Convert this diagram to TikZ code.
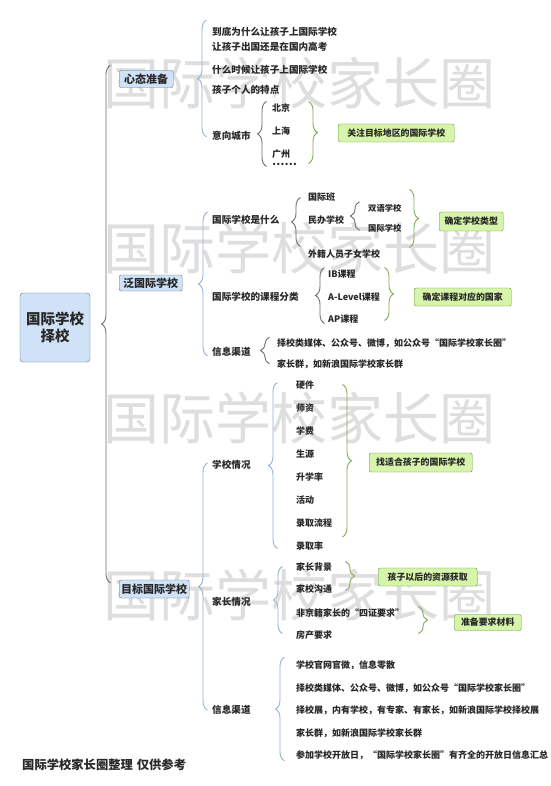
\documentclass[tikz,border=0pt]{standalone}
\usepackage{fontspec}
\setmainfont{Noto Sans CJK SC}
\usepackage{xcolor}
\usepackage{tikz}
\usetikzlibrary{calc, decorations.pathreplacing}
\definecolor{topic}{RGB}{207,226,248}
\definecolor{topicline}{RGB}{100,112,130}
\definecolor{goal}{RGB}{214,244,170}
\definecolor{goalline}{RGB}{100,150,60}
\definecolor{bblue}{RGB}{150,175,210}
\definecolor{bgray}{RGB}{110,110,110}
\definecolor{bgreen}{RGB}{130,168,90}
\definecolor{ink}{RGB}{40,40,40}
\definecolor{mark}{RGB}{222,222,222}

\begin{document}
\begin{tikzpicture}[x=1pt, y=-1pt,
  topic/.style={rectangle, draw=topicline, fill=topic, rounded corners=2pt, inner sep=0pt,
                font=\bfseries\fontsize{11}{13}\selectfont, text=ink},
  goal/.style={rectangle, draw=goalline, fill=goal, rounded corners=2pt, inner sep=0pt,
               minimum height=18pt, font=\bfseries\fontsize{8.9}{10}\selectfont, text=ink},
  mid/.style={anchor=west, inner sep=0pt, font=\bfseries\fontsize{9.6}{11}\selectfont, text=ink},
  leaf/.style={anchor=west, inner sep=0pt, font=\bfseries\fontsize{9}{11}\selectfont, text=ink},
  lbr/.style={draw=#1, line width=0.9pt, decorate, decoration={brace, mirror, amplitude=9pt}},
  rbr/.style={draw=bgreen, line width=0.9pt, decorate, decoration={brace, amplitude=9pt}}
]
\fill[white] (0,0) rectangle (550,786);
\useasboundingbox (0,0) rectangle (550,786);

% watermark
\foreach \wy [count=\i] in {83,248,418,595}
  \node[anchor=west, inner sep=0pt, font=\fontsize{56}{56}\selectfont, text=mark] (wm\i) at (103,\wy) {国际学校家长圈};

% root and main topics
\node[topic, minimum width=70pt, minimum height=69pt, rounded corners=3pt, align=center,
      font=\bfseries\fontsize{14.5}{17}\selectfont] (root) at (55,327.5) {国际学校\\择校};
\node[topic, minimum width=54pt, minimum height=17pt, anchor=west] (mind) at (119,79) {心态准备};
\node[topic, minimum width=63pt, minimum height=16pt, anchor=west] (pan) at (119,283) {泛国际学校};
\node[topic, minimum width=70pt, minimum height=18pt, anchor=west] (target) at (119,589) {目标国际学校};
\draw[lbr=bgray] ($(mind.north west)+(-8.5,-5)$) -- ($(target.north west)+(-8.5,3)$);

% 心态准备
\node[mid] (why) at (212,32) {到底为什么让孩子上国际学校};
\node[mid] (abroad) at (212,47) {让孩子出国还是在国内高考};
\node[mid] (when) at (212,70) {什么时候让孩子上国际学校};
\node[mid] (trait) at (212,90) {孩子个人的特点};
\node[mid] (city) at (212,136) {意向城市};
\draw[lbr=bblue] ($(why.north west)+(-5.5,-7)$) -- ($(city.south west)+(-5.5,-4)$);

\node[leaf] (bj) at (272,108) {北京};
\node[leaf] (sh) at (272,131) {上海};
\node[leaf] (gz) at (272,154) {广州};
\node[leaf, font=\bfseries\fontsize{11}{11}\selectfont] (more) at (272,164) {……};
\draw[lbr=bgray] ($(bj.north west)+(-5.5,-2)$) -- ($(more.south west)+(-5.5,1)$);

\node[goal, minimum width=116pt, anchor=west] (focus) at (338,133) {关注目标地区的国际学校};
\draw[rbr] ($(focus.west |- bj.north)+(-29.5,-2)$) -- ($(focus.west |- gz.south)+(-29.5,5)$);

% 泛国际学校
\node[mid] (what) at (212,220) {国际学校是什么};
\node[mid] (course) at (212,297) {国际学校的课程分类};
\node[mid] (chan) at (212,352) {信息渠道};
\draw[lbr=bblue] ($(what.north west)+(-4.5,-3)$) -- ($(chan.south west)+(-4.5,-1)$);

\node[leaf] (intl) at (308,197) {国际班};
\node[leaf] (priv) at (308,220) {民办学校};
\node[leaf] (expat) at (308,254) {外籍人员子女学校};
\draw[lbr=bgray] ($(intl.north west)+(-7.5,5)$) -- ($(expat.north west)+(-7.5,-3)$);

\node[leaf, font=\bfseries\fontsize{8.3}{10}\selectfont] (bil) at (368,208) {双语学校};
\node[leaf, font=\bfseries\fontsize{8.3}{10}\selectfont] (ints) at (368,228) {国际学校};
\draw[lbr=bgray] ($(bil.north west)+(-8.5,-2)$) -- ($(ints.south west)+(-8.5,-2)$);

\node[goal, minimum width=64pt, minimum height=19pt, anchor=west] (kind) at (439,221.5) {确定学校类型};
\draw[rbr] ($(kind.west |- intl.north)+(-29.5,-3)$) -- ($(kind.west |- expat.north)+(-29.5,-2)$);

\node[leaf] (ib) at (328,274) {IB课程};
\node[leaf] (alevel) at (328,297) {A-Level课程};
\node[leaf] (ap) at (328,319) {AP课程};
\draw[lbr=bgray] ($(ib.north west)+(-3.5,-2)$) -- ($(ap.south west)+(-3.5,0)$);

\node[goal, minimum width=97pt, anchor=west] (nation) at (414,297) {确定课程对应的国家};
\draw[rbr] ($(nation.west |- ib.north)+(-29.5,-2)$) -- ($(nation.west |- ap.south)+(-29.5,-3)$);

\node[leaf] (media) at (277,343) {择校类媒体、公众号、微博，如公众号“国际学校家长圈”};
\node[leaf] (group) at (277,364) {家长群，如新浪国际学校家长群};
\draw[lbr=bgray] ($(media.north west)+(-7.5,-1)$) -- ($(group.south west)+(-7.5,-5)$);

% 目标国际学校
\node[mid] (sch) at (212,465) {学校情况};
\node[mid] (par) at (212,602) {家长情况};
\node[mid] (chan2) at (212,710) {信息渠道};
\draw[lbr=bblue] ($(sch.west)+(-4.5,-2)$) -- ($(chan2.west)+(-4.5,0)$);

\foreach \t [count=\i] in {硬件,师资,学费,生源,升学率,活动,录取流程,录取率}
  \node[leaf] (s\i) at (296,{362+23*\i}) {\t};
\draw[lbr=bblue] ($(s1.north west)+(-18.5,2)$) -- ($(s8.south west)+(-18.5,-2)$);

\node[goal, minimum width=103pt, minimum height=19pt, anchor=west] (fit) at (369,462.5) {找适合孩子的国际学校};
\draw[rbr] ($(fit.west |- s1.north)+(-26.5,4)$) -- ($(fit.west |- s8.north)+(-26.5,-4.5)$);

\node[leaf] (p1) at (296,567) {家长背景};
\node[leaf] (p2) at (296,589) {家校沟通};
\node[leaf] (p3) at (296,613) {非京籍家长的“四证要求”};
\node[leaf] (p4) at (296,635) {房产要求};
\draw[lbr=bblue] ($(p1.north west)+(-13.5,4)$) -- ($(p4.south west)+(-13.5,-6)$);

\node[goal, minimum width=99pt, anchor=west] (res) at (378,577) {孩子以后的资源获取};
\draw[rbr] ($(res.west |- p1.north)+(-32.5,-1)$) -- ($(res.west |- p2.south)+(-32.5,-3)$);

\node[goal, minimum width=67pt, minimum height=16pt, anchor=west] (prep) at (454,622.5) {准备要求材料};
\draw[rbr] ($(prep.west |- p3.north)+(-35.5,-2)$) -- ($(prep.west |- p4.south)+(-35.5,-6)$);

\node[leaf] (i1) at (296,665) {学校官网官微，信息零散};
\node[leaf] (i2) at (296,688) {择校类媒体、公众号、微博，如公众号“国际学校家长圈”};
\node[leaf] (i3) at (296,710) {择校展，内有学校，有专家、有家长，如新浪国际学校择校展};
\node[leaf] (i4) at (296,733) {家长群，如新浪国际学校家长群};
\node[leaf] (i5) at (296,755) {参加学校开放日，“国际学校家长圈”有齐全的开放日信息汇总};
\draw[lbr=bblue] ($(i1.north west)+(-11.5,-3)$) -- ($(i5.south west)+(-11.5,1)$);

\node[anchor=west, inner sep=0pt, font=\bfseries\fontsize{12.3}{13}\selectfont, text=ink] (note) at (22,765) {国际学校家长圈整理\hspace{4pt}仅供参考};
\end{tikzpicture}
\end{document}
